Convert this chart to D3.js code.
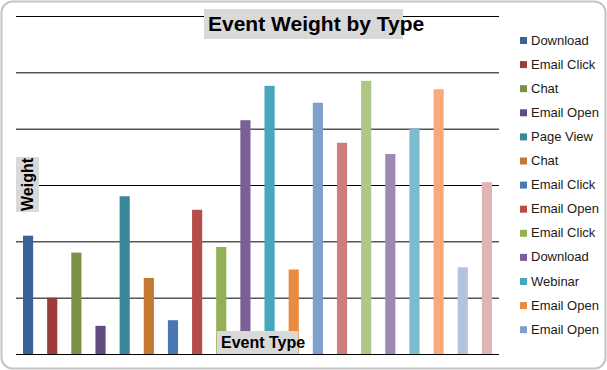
<!DOCTYPE html>
<html>
<head>
<meta charset="utf-8">
<script src="https://cdn.jsdelivr.net/npm/d3@7"></script>
<style>
  html, body { margin: 0; padding: 0; background: #fff; }
  svg { display: block; font-family: "Liberation Sans", Arial, sans-serif; }
</style>
</head>
<body>
<div id="chart"></div>
<script>
// event types, one bar each (the last ones don't fit in the legend)
const eventTypes = [
    'Download', 'Email Click', 'Chat', 'Email Open', 'Page View',
    'Chat', 'Email Click', 'Email Open', 'Email Click', 'Download',
    'Webinar', 'Email Open', 'Email Open', 'Page View', 'Webinar',
    'Chat', 'Download', 'Email Click', 'Page View', 'Webinar'
];
const weights = [21, 10, 18, 5, 28, 13.5, 6, 25.6, 19, 41.5,
                 47.6, 15, 44.6, 37.5, 48.5, 35.5, 40, 47, 15.4, 30.5];
const barColors = [
    '#3a6397', '#9b3d3b', '#7a9244', '#634c80', '#37889b',
    '#c57834', '#4a78b4', '#b74c49', '#94b055', '#7a5f99',
    '#47a5be', '#e98b40', '#7f9fcc', '#cd7e7c', '#afc785',
    '#9c8ab5', '#7bbcd0', '#f8aa79', '#b3c3df', '#e0b5b4'
];
const yTicks = [0, 10, 20, 30, 40, 50, 60];

const width = 607, height = 370;
const plot = {left: 16, right: 499, top: 16, bottom: 354};

const svg = d3.select('#chart').append('svg')
    .attr('width', width)
    .attr('height', height);

// outer frame
svg.append('rect')
    .attr('x', 1.5).attr('y', 1.5)
    .attr('width', width - 3).attr('height', height - 3)
    .attr('rx', 11).attr('ry', 11)
    .style('fill', '#fff')
    .style('stroke', '#c3c3c3')
    .style('stroke-width', 2);

const xScale = d3.scaleBand()
    .domain(d3.range(weights.length))
    .range([plot.left, plot.right])
    .paddingInner(0.58)
    .paddingOuter(0.29);

const yScale = d3.scaleLinear()
    .domain([0, 60])
    .range([plot.bottom, plot.top]);

// gridlines, no tick labels
const yAxis = d3.axisLeft(yScale)
    .tickValues(yTicks)
    .tickSize(-(plot.right - plot.left))
    .tickFormat('');

const grid = svg.append('g')
    .attr('transform', `translate(${plot.left},0)`)
    .call(yAxis);
grid.select('.domain').remove();
grid.selectAll('.tick line')
    .style('stroke', '#000')
    .style('stroke-width', 1);

// bars
svg.append('g')
    .selectAll('rect')
    .data(weights)
    .enter()
    .append('rect')
    .attr('x', (d, i) => xScale(i))
    .attr('y', d => yScale(d))
    .attr('width', xScale.bandwidth())
    .attr('height', d => yScale(0) - yScale(d))
    .style('fill', (d, i) => barColors[i]);

// title
svg.append('rect')
    .attr('x', 204).attr('y', 9)
    .attr('width', 199).attr('height', 30)
    .style('fill', '#d9d9d9');
svg.append('text')
    .attr('x', 208).attr('y', 31)
    .style('font-size', '21px')
    .style('font-weight', 'bold')
    .style('fill', '#000')
    .text('Event Weight by Type');

// y axis title
svg.append('rect')
    .attr('x', 16).attr('y', 157)
    .attr('width', 23).attr('height', 55)
    .style('fill', '#d9d9d9');
svg.append('text')
    .attr('transform', 'translate(33,184.5) rotate(-90)')
    .attr('text-anchor', 'middle')
    .style('font-size', '16px')
    .style('font-weight', 'bold')
    .style('fill', '#000')
    .text('Weight');

// x axis title
svg.append('rect')
    .attr('x', 217).attr('y', 331)
    .attr('width', 81).attr('height', 23)
    .style('fill', '#d9d9d9');
svg.append('text')
    .attr('x', 221).attr('y', 348)
    .style('font-size', '16px')
    .style('font-weight', 'bold')
    .style('fill', '#000')
    .text('Event Type');

// legend, only as many entries as fit
const legendStep = 24.1;
const legendData = eventTypes
    .map((name, i) => ({name, color: barColors[i], y: 37 + i * legendStep}))
    .filter(d => d.y + 10 < 345);

const legend = svg.append('g')
    .selectAll('g')
    .data(legendData)
    .enter()
    .append('g')
    .attr('transform', d => `translate(520,${d.y})`);

legend.append('rect')
    .attr('width', 7).attr('height', 7)
    .style('fill', d => d.color);
legend.append('text')
    .attr('x', 11).attr('y', 7.5)
    .style('font-size', '13px')
    .style('fill', '#1a1a1a')
    .text(d => d.name);
</script>
</body>
</html>
